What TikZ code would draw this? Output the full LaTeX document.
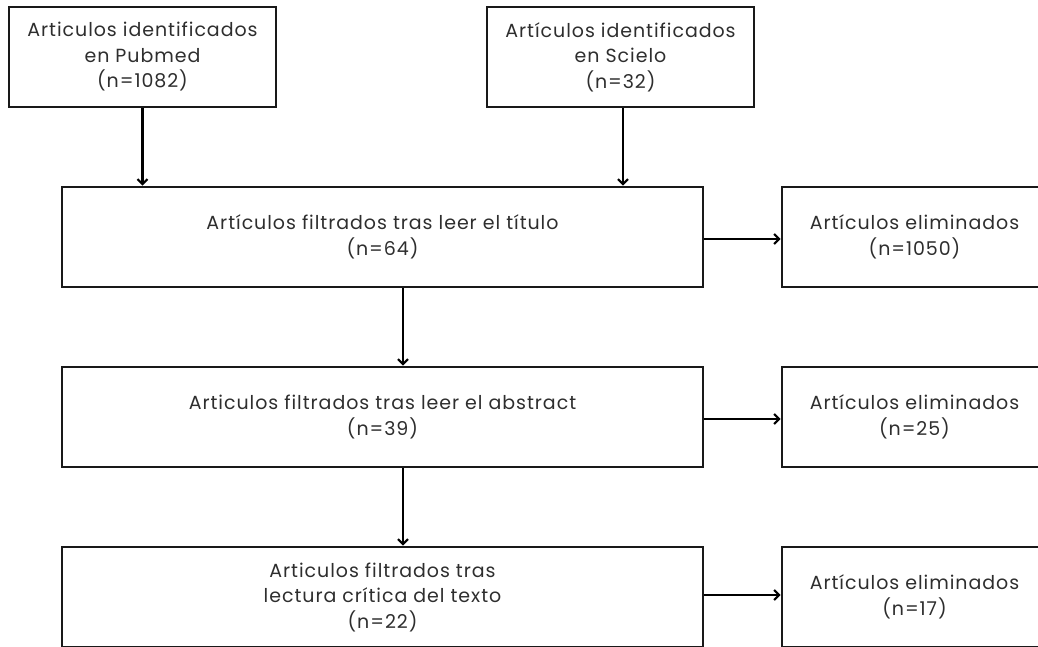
\documentclass[tikz,border=0pt]{standalone}
\usepackage{fontspec}
\setmainfont{Poppins}[LetterSpace=5]
\usetikzlibrary{arrows.meta}
\definecolor{txt}{HTML}{2E2E2E}
\tikzset{
  box/.style={draw=black!90, line width=2.7pt, minimum width=#1, align=center, inner sep=0pt, text=txt, font=\fontsize{19}{25.5}\selectfont},
  box/.default=267pt,
  conn/.style={line width=2.2pt, -{Straight Barb[length=5pt,width=10pt,line width=2.2pt]}}
}
\begin{document}
\begin{tikzpicture}[x=1pt,y=-1pt]
\useasboundingbox (0,0) rectangle (1038,646);
\clip (0,0) rectangle (1038,646);
\node[box=267pt, minimum height=100pt] (pub) at (142.5,57) {Articulos identificados\\en Pubmed\\(n=1082)};
\node[box=267pt, minimum height=100pt] (sci) at (620.5,57) {Artículos identificados\\en Scielo\\(n=32)};
\node[box=641pt, minimum height=100pt] (f1) at (382.5,237) {Artículos filtrados tras leer el título\\(n=64)};
\node[box=641pt, minimum height=100pt] (f2) at (382.5,417) {Articulos filtrados tras leer el abstract\\(n=39)};
\node[box=641pt, minimum height=100pt] (f3) at (382.5,597) {Articulos filtrados tras\\lectura crítica del texto\\(n=22)};
\node[box=265pt, minimum height=100pt] (e1) at (914.5,237) {Artículos eliminados\\(n=1050)};
\node[box=265pt, minimum height=100pt] (e2) at (914.5,417) {Artículos eliminados\\(n=25)};
\node[box=265pt, minimum height=100pt] (e3) at (914.5,597) {Artículos eliminados\\(n=17)};
\draw[conn] (pub.south) -- (pub.south |- f1.north);
\draw[conn] ([xshift=2.5pt]sci.south) -- ([xshift=2.5pt]sci.south |- f1.north);
\draw[conn] ([xshift=20.5pt]f1.south) -- ([xshift=20.5pt]f2.north);
\draw[conn] ([xshift=20.5pt]f2.south) -- ([xshift=20.5pt]f3.north);
\draw[conn] ([yshift=-2pt]f1.east) -- ([yshift=-2pt]e1.west);
\draw[conn] ([yshift=-2pt]f2.east) -- ([yshift=-2pt]e2.west);
\draw[conn] ([yshift=2pt]f3.east) -- ([yshift=2pt]e3.west);
\end{tikzpicture}
\end{document}
